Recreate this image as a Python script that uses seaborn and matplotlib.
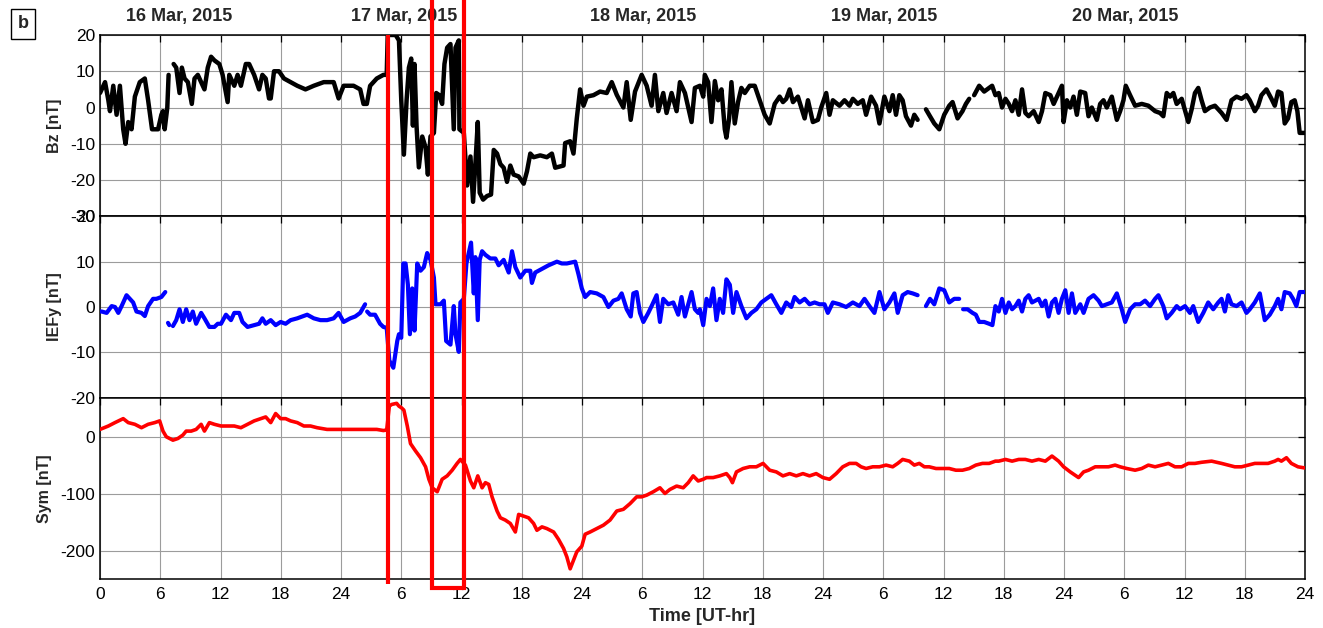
import numpy as np
import pandas as pd
import matplotlib
matplotlib.use("Agg")
import matplotlib.pyplot as plt
import matplotlib.transforms as mtransforms
from matplotlib.lines import Line2D
import seaborn as sns

nan = np.nan

# ---- Solar wind / geomagnetic data, 16-20 March 2015 (hours from 16 Mar 00 UT) ----
bz_hours = [
    0.0, 0.17, 0.5, 0.83, 0.99, 1.32, 1.65, 1.98, 2.31, 2.54, 2.81, 3.14, 3.47, 3.96, 4.46,
    4.79, 5.18, 5.78, 6.11, 6.27, 6.44, 6.7, 6.83, 7.0, 7.33, 7.59, 7.92, 8.15, 8.42, 8.75,
    9.14, 9.41, 9.74, 10.07, 10.4, 10.73, 11.06, 11.39, 11.88, 12.21, 12.71, 12.87, 13.37,
    13.7, 14.03, 14.52, 14.85, 15.35, 15.84, 16.17, 16.5, 16.83, 17.0, 17.33, 17.82, 18.32,
    18.98, 19.64, 20.46, 21.29, 22.28, 23.27, 23.76, 24.26, 25.25, 25.91, 26.24, 26.57,
    26.9, 27.56, 28.22, 28.55,
    28.65, 29.04, 29.44, 29.77, 30.0, 30.26, 30.53, 30.76, 30.99, 31.16, 31.32, 31.52,
    31.75, 32.09, 32.42, 32.65, 32.91, 33.25, 33.48, 33.74, 34.07, 34.3, 34.57, 34.9,
    35.23, 35.4, 35.73, 35.79, 36.23, 36.56, 36.89, 37.15, 37.38, 37.62, 37.81, 38.15,
    38.54, 38.94, 39.21, 39.54, 39.87, 40.2, 40.53, 40.86, 41.19, 41.69, 42.19, 42.52,
    42.85, 43.18, 43.84, 44.5, 45.0, 45.33, 46.16, 46.32, 46.82, 47.15, 47.48, 47.81,
    48.15, 48.48, 49.14, 49.8, 50.46, 50.96, 51.46, 52.12, 52.45, 52.85, 53.28, 53.94,
    54.44, 54.93, 55.26, 55.6, 56.09, 56.42, 56.92, 57.42, 57.75, 58.25, 58.91, 59.24,
    59.74, 60.07, 60.23, 60.56, 60.89, 61.23, 61.56, 61.89, 62.22, 62.38, 62.65, 62.88,
    63.21, 63.54, 63.87, 64.21, 64.7, 65.2, 65.7, 66.19, 66.69, 67.19, 67.68, 68.01,
    68.34, 68.68, 69.01, 69.5, 70.17, 70.5, 70.99, 71.49, 71.82, 72.32, 72.65, 72.98,
    73.64, 74.14, 74.64, 74.97, 75.46, 75.96, 76.29, 76.79, 77.28, 77.62, 78.11, 78.61,
    78.94, 79.27, 79.6, 79.93, 80.26, 80.76, 81.09, 81.42, 81.8, 82.25, 82.65, 83.08,
    83.58, 84.07, 84.57, 84.9, 85.4, 85.89, 86.23, 86.56, 86.75, 87.05, 87.55, 88.05,
    88.54, 88.84, 89.17, 89.5, 89.83, 90.17, 90.5, 90.83, 91.16, 91.49, 91.82, 92.15,
    92.48, 92.98, 93.48, 93.81, 94.14, 94.64, 94.97, 95.3, 95.79, 95.96, 96.29, 96.62,
    96.95, 97.28, 97.62, 98.11, 98.44, 98.77, 99.27, 99.6, 99.93, 100.26, 100.76, 101.26,
    101.59, 101.92, 102.15, 102.58, 103.08, 103.74, 104.4, 105.07, 105.56, 105.89, 106.23,
    106.56, 106.89, 107.22, 107.72, 108.38, 108.71, 109.04, 109.37, 109.7, 110.03, 110.53,
    111.03, 111.69, 112.19, 112.68, 113.18, 113.68, 114.17, 114.5, 115.0, 115.33, 115.66,
    116.16, 116.66, 116.99, 117.32, 117.65, 117.98, 118.31, 118.64, 118.97, 119.24, 119.47,
    120.0,
]
bz_values = [
    4, 5, 7, 2, -1, 6, -2, 6, -6, -10, -4, -6, 3, 7, 8,
    2, -6, -6, -2, -1, -6, 0, 9, nan, 12, 11, 4, 11, 8, 7,
    1, 8, 9, 7, 5, 11, 14, 13, 12, 9, 1.5, 9, 6,
    9, 6, 12, 12, 9, 5, 9, 8, 2.5, 2.5, 10, 10, 8,
    7, 6, 5, 6, 7, 7, 2.5, 6, 6, 5, 1, 1,
    6, 8, 9, 9,
    20, 20, 20, 18.5, 2, -13, 2, 11, 13.5, -5, 12, -5,
    -16.5, -8, -11, -18.5, -8, -7, 4, 3.5, 1, 12, 16.5, 17.5,
    -6, 16.5, 18.5, -6, -7, -21.5, -13.5, -26, -15.6, -4, -23.5, -25.4,
    -24.4, -24, -11.7, -12.7, -15.6, -16.6, -20.5, -16, -18.5, -19, -21, -17.6,
    -12.7, -13.7, -13.2, -13.7, -12.7, -16.6, -16, -9.8, -9.3, -12.7, -3, 5,
    0.5, 3, 3.4, 4.4, 4, 7, 3.5, 0, 7, -3.4, 4.4, 9,
    6, 0.5, 9, -1, 4, -1.5, 4, -1, 7, 4, -4, 5.4,
    6, 3, 9, 7, -4, 7.3, 2, 5, -6, -8.3, -3, 7,
    -4.4, 1.5, 5.4, 4, 6, 6, 2, -2, -4.4, 1, 3, 1.5,
    2.4, 5, 1.5, 3, -3, 2, -4, -3.4, 0, 4, -2, 2,
    0.5, 2, 0.5, 2.4, 1, 2, -2, 3, 0.5, -4.4, 3, -1,
    3.4, -2, 3.4, 2, -2.4, -5, -2, -3.4, nan, -0.5, -2.4, -4.4,
    -6, -2, 0.5, 1.5, -3, -1, 1, 2.4, nan, 3.4, 6, 4.4,
    5.4, 6, 3.4, 4, 0, 2.4, 1, -1, 2, -2, 5, -1.5,
    -2.4, -1, -4, -1, 4, 3.4, 1, 3, 6, -4, 2, 0,
    3, -2, 4.4, 4, -2.4, 0, -3.4, 1, 2, 0, 3, -3.4,
    -1, 2, 6, 3.4, 0.5, 1, 0.5, -1, -1.5, -2.4, 4,
    3, 4, 1, 2.4, -4, -0.5, 4, 5.4, 2, -1, 0,
    0.5, -1.5, -3.4, 2, 3, 2.4, 3.4, 2, -1, 0.5, 3.4,
    5, 2.4, 0.5, 4.4, 4, -4.4, -3, 1.5, 2, -1, -7,
    -7,
]

iefy_hours = [
    0.0, 0.17, 0.66, 1.16, 1.49, 1.82, 2.15, 2.64, 2.97, 3.3, 3.63, 4.13, 4.46, 4.79, 5.28,
    5.61, 6.11, 6.5, 6.65, 6.77, 6.9, 7.05, 7.26, 7.59, 7.92, 8.25, 8.58, 8.91, 9.24, 9.57,
    10.07, 10.4, 10.89, 11.39, 11.72, 12.05, 12.54, 13.04, 13.37, 13.86, 14.19, 14.69,
    15.35, 15.84, 16.17, 16.5, 17.0, 17.49, 17.99, 18.48, 18.98, 19.64, 20.13, 20.63,
    21.29, 21.95, 22.61, 23.27, 23.76, 24.26, 24.92, 25.41, 25.91, 26.4, 26.5, 26.6,
    26.9, 27.39, 27.89, 28.22, 28.55,
    28.81, 29.21, 29.6, 29.77, 30.0, 30.2, 30.43, 30.66, 30.86, 31.09, 31.32, 31.59, 31.92,
    32.25, 32.58, 32.91, 33.25, 33.41, 33.91, 34.24, 34.47, 34.9, 35.23, 35.4, 35.73, 35.89,
    36.23, 36.49, 36.72, 36.95, 37.22, 37.38, 37.62, 37.81, 38.05, 38.38, 38.87, 39.37,
    39.7, 40.2, 40.7, 41.03, 41.36, 41.85, 42.35, 42.85, 43.01, 43.34, 44.01, 44.67, 45.5,
    45.99, 46.49, 47.32, 47.65, 47.98, 48.31, 48.81, 49.47, 50.13, 50.63, 51.13, 51.62,
    51.95, 52.45, 52.85, 53.11, 53.44, 53.77, 54.11, 54.6, 54.93, 55.43, 55.76, 56.09,
    56.59, 57.09, 57.58, 57.91, 58.25, 58.91, 59.24, 59.57, 59.74, 60.07, 60.4, 60.73,
    61.06, 61.39, 61.72, 62.05, 62.38, 62.72, 63.05, 63.38, 63.87, 64.37, 64.87, 65.36,
    65.86, 66.36, 66.85, 67.35, 67.85, 68.34, 68.84, 69.17, 69.67, 70.17, 70.66, 71.16,
    71.66, 72.15, 72.48, 72.98, 73.64, 74.3, 74.97, 75.63, 76.13, 76.62, 77.12, 77.62,
    78.11, 78.61, 79.11, 79.44, 79.93, 80.43, 80.93, 81.42, 81.8, 82.25, 82.65, 83.08,
    83.58, 84.07, 84.57, 85.07, 85.56, 85.75, 85.95, 86.4, 86.89, 87.22, 87.55, 88.05, 88.54,
    88.87, 89.17, 89.5, 89.83, 90.17, 90.5, 90.83, 91.16, 91.49, 91.82, 92.15, 92.48,
    92.81, 93.15, 93.48, 93.81, 94.14, 94.47, 94.8, 95.13, 95.46, 95.79, 96.13, 96.46,
    96.79, 97.12, 97.62, 97.95, 98.44, 98.94, 99.44, 99.77, 100.26, 100.76, 101.26,
    101.75, 102.09, 102.58, 103.08, 103.58, 104.07, 104.57, 105.07, 105.4, 105.89, 106.23,
    106.72, 107.22, 107.55, 108.05, 108.54, 108.87, 109.37, 109.87, 110.36, 110.86, 111.36,
    111.69, 112.02, 112.35, 112.68, 113.18, 113.68, 114.17, 114.5, 115.0, 115.5, 115.99,
    116.49, 116.99, 117.32, 117.65, 117.98, 118.48, 118.81, 119.14, 119.47, 120.0,
]
iefy_values = [
    -1, -1, -1.3, 0.2, 0, -1.3, 0.2, 2.6, 1.8, 1, -1, -1.3, -2, 0.2, 1.8,
    1.8, 2.2, 3.3, nan, -3.5, -4.0, nan, -4.2, -2.9, -0.5, -3.3, -0.5, -2.9, -1, -3.7,
    -1.3, -2.5, -4.4, -4.4, -3.7, -3.7, -1.7, -2.9, -1.3, -1.3, -3.3, -4.4,
    -4, -3.7, -2.5, -3.7, -2.9, -4, -3.3, -3.7, -2.9, -2.5, -2.1, -1.7,
    -2.5, -2.9, -2.9, -2.5, -1.3, -3.3, -2.5, -2.1, -1.3, 0.6, nan, -1.0,
    -1.7, -1.7, -3.7, -4.4, -4.6,
    -11.8, -13.4, -7.5, -6, -6.8, 9.6, 9.6, 4.9, -6, 4.1, -5.2, 9.6, 8,
    8.8, 11.9, 10.4, 6.5, 0.6, 0.6, 1.4, -7.5, -8.3, 0.2, -6, -9.9, 1,
    1.8, 9.6, 11.9, 14.2, 3, 11, -2.9, 10.4, 12.3, 11.5, 10.7, 10.7,
    9.2, 10.4, 7.6, 12.3, 8.8, 6.5, 8, 8, 5.3, 7.6, 8.4, 9.2, 10,
    9.6, 9.6, 10, 7.2, 4.1, 2.2, 3.3, 3, 2.2, 0, 1.4, 1.8,
    3, -0.5, -2.1, 3, 3.3, -1.3, -3.3, -1.3, 0.2, 2.6, -3.3, 1.8,
    0.6, 1, -1.7, 2.2, -2.1, 3.3, -0.5, -1.3, -0.5, -4, 1.8, 0.2,
    4.1, -2.9, 1.8, -1.3, 6.1, 4.9, -1.3, 3.3, 0.2, -2.5, -1.3, -0.5,
    1, 1.8, 2.6, 0.6, -1.3, 1, 0, 2.2, 1, 1.8, 0.6, 1,
    0.6, 0.6, -1.3, 1, 0.6, 0, 1, 0.2, 1.8, 0.2, -1.3, 3.3,
    -0.5, 1, 3, -1.3, 2.6, 3.3, 3, 2.6, nan, 0.2, 1.8, 0.6,
    4.1, 3.7, 1, 1.8, 1.8, nan, -0.5, -0.5, -1.3, -1.7, -3.3, -3.3, -3.7,
    -4, 0.2, -1, 1.8, -1.3, 1, -0.5, 0.2, 1.4, -1, 1.8, 2.6,
    1, 1.4, 1.8, 0.2, 1.4, -2.1, 1, 1.8, -1.3, 1.8, 3.7, -1.3,
    3, -1.3, 0.6, -1.3, 1.8, 2.6, 1.4, 0.2, 0.6, 1, 3,
    -0.5, -3.3, -0.5, 0.6, 0.6, 1.4, 0.2, 1.8, 2.6, 0.2, -2.5,
    -1.3, 0.2, -0.5, 0.2, -1.3, 0.2, -3.3, -1.3, 1, -0.5, 1,
    1.8, -1, 2.6, 0.6, 0.2, 1, -1.3, -0.5, 1, 3, -2.9,
    -1.7, 0.2, 1.8, -0.5, 3.3, 3, 1.8, 0.2, 3.3, 3.3,
]

sym_hours = [
    0.0, 0.83, 1.49, 2.31, 2.81, 3.47, 4.13, 4.79, 5.45, 5.94, 6.27, 6.6, 7.26, 7.76, 8.25,
    8.58, 9.08, 9.57, 10.07, 10.4, 10.89, 11.39, 12.05, 12.71, 13.37, 14.03, 14.69, 15.35,
    16.01, 16.5, 17.0, 17.49, 17.99, 18.48, 18.98, 19.64, 20.3, 20.96, 21.62, 22.61, 23.6,
    24.59, 25.58, 26.57, 27.56, 28.22, 28.55,
    28.81, 29.04, 29.54, 29.77, 30.03, 30.26, 30.6, 30.92, 31.42, 31.92, 32.42, 32.75,
    33.08, 33.58, 34.07, 34.57, 35.07, 35.56, 35.89, 36.39, 36.89, 37.22, 37.62, 38.05,
    38.38, 38.71, 39.04, 39.54, 39.87, 40.36, 40.86, 41.36, 41.69, 42.19, 42.68, 43.18,
    43.51, 44.01, 44.5, 44.83, 45.17, 45.66, 46.16, 46.49, 46.82, 47.15, 47.48, 47.98,
    48.31, 48.81, 49.47, 50.13, 50.79, 51.46, 52.12, 52.78, 53.44, 53.94, 54.44, 55.1,
    55.76, 56.26, 56.75, 57.42, 58.08, 58.58, 59.07, 59.57, 60.07, 60.4, 61.06, 61.72,
    62.38, 62.72, 62.98, 63.38, 64.04, 64.7, 65.36, 66.03, 66.69, 67.35, 68.01, 68.68,
    69.34, 70.0, 70.66, 71.32, 71.99, 72.65, 73.31, 73.97, 74.64, 75.3, 75.79, 76.29,
    76.95, 77.62, 78.28, 78.94, 79.44, 79.93, 80.6, 81.09, 81.59, 82.09, 82.58, 83.25,
    83.91, 84.57, 85.23, 85.89, 86.56, 87.22, 87.88, 88.54, 89.17, 89.5, 90.17, 90.83,
    91.49, 92.15, 92.81, 93.48, 94.14, 94.8, 95.46, 95.96, 96.62, 97.45, 97.95, 98.44,
    99.11, 99.77, 100.43, 101.09, 101.59, 102.25, 103.08, 103.74, 104.4, 105.07, 105.73,
    106.39, 107.05, 107.72, 108.38, 109.04, 109.7, 110.7, 111.69, 112.35, 113.01, 113.68,
    114.34, 115.0, 115.66, 116.32, 116.99, 117.32, 117.65, 118.15, 118.64, 119.3, 119.97,
]
sym_values = [
    14, 20, 26, 33, 26, 23, 17, 23, 26, 29, 11, 1, -5, -2, 4,
    11, 11, 14, 23, 11, 26, 23, 20, 20, 20, 17, 23, 29,
    33, 36, 26, 42, 33, 33, 29, 26, 20, 20, 17, 14, 14,
    14, 14, 14, 14, 12, 13,
    55, 58, 60, 55, 52, 48, 20, -11, -24, -36, -52, -74,
    -89, -96, -74, -68, -58, -46, -39, -49, -77, -89, -68, -89,
    -80, -83, -105, -130, -142, -146, -152, -167, -136, -139, -142, -152,
    -164, -158, -161, -164, -167, -180, -196, -211, -232, -217, -202, -192,
    -171, -167, -161, -155, -146, -130, -127, -117, -105, -105, -102, -96,
    -89, -99, -92, -86, -89, -80, -68, -77, -74, -71, -71, -68,
    -64, -71, -80, -61, -55, -52, -52, -46, -58, -61, -68, -64,
    -68, -64, -68, -64, -71, -74, -64, -52, -46, -46, -52, -55,
    -52, -52, -49, -52, -46, -39, -42, -49, -46, -52, -52, -55,
    -55, -55, -58, -58, -55, -49, -46, -46, -42, -42, -39, -42,
    -39, -39, -42, -39, -42, -33, -42, -52, -61, -71, -61, -58,
    -52, -52, -52, -49, -52, -55, -58, -55, -49, -52, -49,
    -46, -52, -52, -46, -46, -44, -42, -46, -49, -52, -52,
    -49, -46, -46, -46, -42, -39, -42, -36, -46, -52, -54,
]

tick_hours = list(range(0, 121, 6))
tick_labels = ["0", "6", "12", "18", "24"] + ["6", "12", "18", "24"] * 4
date_labels = ["16 Mar, 2015", "17 Mar, 2015", "18 Mar, 2015", "19 Mar, 2015", "20 Mar, 2015"]
date_label_hours = [7.9, 30.3, 54.1, 78.1, 102.1]

# storm sudden commencement and the highlighted main-phase interval (hours)
ssc_hour = 28.65
window_start, window_end = 33.1, 36.25

panels = [
    ("Bz [nT]", bz_hours, bz_values, "#000000", 3.2, (-30, 20), list(range(-30, 21, 10))),
    ("IEFy [nT]", iefy_hours, iefy_values, "#0000ff", 3.0, (-20, 20), list(range(-20, 21, 10))),
    ("Sym [nT]", sym_hours, sym_values, "#ff0000", 2.6, (-250, 70), [-200, -100, 0]),
]


def to_frame(hours, values):
    df = pd.DataFrame({"hour": hours, "value": values})
    df["segment"] = df["value"].isna().cumsum()
    return df.dropna()


sns.set_theme(style="white")
plt.rcParams["font.family"] = ["Liberation Sans", "DejaVu Sans"]
plt.rcParams["axes.unicode_minus"] = False
plt.rcParams["axes.edgecolor"] = "black"
plt.rcParams["axes.linewidth"] = 1.1

fig = plt.figure(figsize=(13.23, 6.28), dpi=100)
axes = fig.subplots(3, 1, sharex=True, gridspec_kw=dict(hspace=0))
fig.subplots_adjust(left=0.0756, right=0.9864, top=0.9443, bottom=0.078)

for ax, (label, hours, values, color, lw, ylim, yticks) in zip(axes, panels):
    df = to_frame(hours, values)
    sns.lineplot(data=df, x="hour", y="value", units="segment", estimator=None,
                 sort=False, color=color, linewidth=lw, legend=False, ax=ax, zorder=3)
    ax.set_xlim(0, 120)
    ax.set_ylim(*ylim)
    ax.set_yticks(yticks)
    ax.set_xticks(tick_hours)
    ax.grid(True, color="#9c9c9c", linewidth=0.8)
    ax.set_axisbelow(True)
    ax.tick_params(direction="in", top=True, right=True, length=5, width=0.9,
                   labelsize=12.5, colors="black", pad=3.5)
    ax.set_ylabel(label, fontsize=11.5, fontweight="bold", labelpad=6)
    ax.set_xlabel("")
    for s in ax.spines.values():
        s.set_color("black")
        s.set_linewidth(1.1)

axes[-1].set_xticklabels(tick_labels)
axes[-1].tick_params(axis="x", pad=6)
axes[-1].set_xlabel("Time [UT-hr]", fontsize=13, fontweight="bold", labelpad=4)

# day labels above the top panel
top_trans = mtransforms.blended_transform_factory(axes[0].transData, fig.transFigure)
for hour, text in zip(date_label_hours, date_labels):
    fig.text(hour, 1 - 17 / 628, text, transform=top_trans, ha="center", va="center",
             fontsize=13, fontweight="bold")

# panel tag
fig.text(0.0174, 0.962, "b", ha="center", va="center", fontsize=13, fontweight="bold",
         bbox=dict(boxstyle="square,pad=0.35", facecolor="white", edgecolor="black", linewidth=1))

# event markers spanning all panels
mark_trans = mtransforms.blended_transform_factory(axes[-1].transData, fig.transFigure)
fig.add_artist(Line2D([ssc_hour, ssc_hour], [1 - 584 / 628, 0.9443], transform=mark_trans,
                      color="#ff0000", linewidth=3.0, solid_capstyle="butt", zorder=10))
box_bottom = 1 - 588 / 628
fig.add_artist(Line2D([window_start, window_start, window_end, window_end],
                      [1.0, box_bottom, box_bottom, 1.0], transform=mark_trans,
                      color="#ff0000", linewidth=3.0, solid_joinstyle="miter",
                      solid_capstyle="butt", zorder=10))

fig.savefig("out.png", dpi=100)
